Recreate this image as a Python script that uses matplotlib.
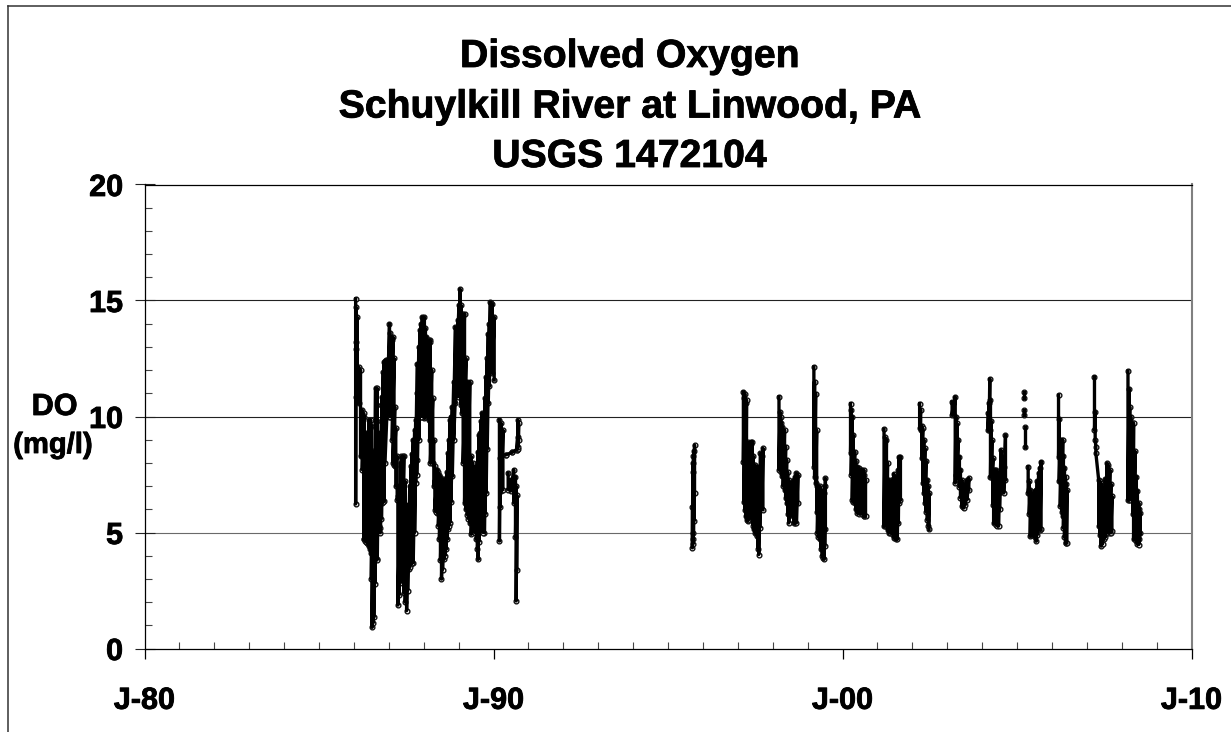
import numpy as np
import matplotlib
matplotlib.use("Agg")
import matplotlib.pyplot as plt
import matplotlib.patheffects as pe
from matplotlib.lines import Line2D
from matplotlib.ticker import MultipleLocator

plt.rcParams['font.family'] = ['Liberation Sans', 'DejaVu Sans']

TITLE = ["Dissolved Oxygen", "Schuylkill River at Linwood, PA", "USGS 1472104"]
YLABEL = ["DO", "(mg/l)"]
X_TICKS = [1980, 1990, 2000, 2010]
X_LABELS = ["J-80", "J-90", "J-00", "J-10"]
Y_TICKS = [0, 5, 10, 15, 20]

# Each block: decimal year, highest and lowest DO (mg/l) read around that date
d_1986 = [1986.05,1986.06,1986.07,1986.09,1986.14,1986.19,1986.24,1986.28,1986.33,1986.38,1986.43,1986.48,1986.52,1986.57,1986.62,1986.67,1986.71,1986.76,1986.81,1986.86,1986.91,1986.95,
          1987.02,1987.07,1987.12,1987.17,1987.24,1987.26,1987.32,1987.36,1987.43,1987.51,1987.57,1987.64,1987.70,1987.77,1987.82,1987.89,1987.96,
          1988.02,1988.08,1988.15,1988.19,1988.26,1988.32,1988.39,1988.45,1988.51,1988.58,1988.64,1988.70,1988.75,1988.82,1988.91,1988.98,
          1989.04,1989.10,1989.17,1989.25,1989.32,1989.36,1989.44,1989.51,1989.56,1989.61,1989.67,1989.74,1989.79,1989.85,1989.91,1989.96,1990.02]
h_1986 = [15.07,14.7,13.2,14.29,12.14,12.0,10.28,10.14,9.14,8.57,9.85,9.85,7.28,8.28,11.21,11.21,9.14,9.0,10.85,12.36,12.43,12.43,
          14.0,13.43,13.43,10.42,8.28,6.56,6.28,8.28,8.28,6.13,6.13,7.85,9.0,9.85,12.28,13.71,14.29,
          14.29,13.43,13.29,13.29,10.78,7.85,7.71,7.49,7.28,7.28,7.28,8.42,9.85,10.42,13.86,14.14,
          15.5,14.43,14.43,11.5,11.5,8.28,7.85,7.85,8.49,9.28,10.14,10.14,11.71,13.57,14.93,14.86,14.29]
l_1986 = [6.23,12.9,10.85,10.85,10.57,8.28,7.71,4.70,4.63,4.56,4.42,4.13,0.91,1.34,3.84,3.84,5.27,4.99,6.28,6.35,10.14,10.28,
          10.0,10.0,8.0,7.85,6.42,1.87,2.84,3.41,2.41,1.63,3.41,3.63,3.70,7.13,8.14,10.0,10.0,
          9.93,10.0,9.85,8.0,8.0,5.99,5.85,4.70,2.99,3.84,4.27,5.13,5.42,7.42,10.57,10.85,
          11.43,10.14,6.28,5.77,5.42,4.92,5.42,4.70,3.84,5.42,5.13,4.99,6.70,10.57,12.0,11.86,11.57]

# Half-step columns read between the ones above, where the mass is solid
d_1986x = [1986.30,1986.35,1986.40,1986.45,1986.50,1986.55,1986.60,1986.65,1986.74,1986.79,1986.84,1986.89,
           1987.04,1987.10,1987.15,1987.20,1987.29,1987.34,1987.40,1987.47,1987.54,1987.60,1987.67,1987.74,1987.80,1987.86,1987.92,
           1988.05,1988.11,1988.17,1988.23,1988.29,1988.35,1988.42,1988.48,1988.54,1988.61,1988.67,1988.73,1988.78,1988.86,
           1989.01,1989.07,1989.13,1989.21,1989.28,1989.40,1989.47,1989.54,1989.58,1989.64,1989.70,1989.76,1989.82,1989.88,1989.93]
h_1986x = [10.0,9.3,8.9,9.5,9.6,8.5,8.3,10.5,9.3,9.8,11.9,12.4,
           13.6,13.3,12.5,9.5,7.0,8.0,8.3,7.2,6.2,7.0,8.4,9.4,11.0,13.0,14.0,
           13.8,13.3,13.2,12.0,9.0,7.7,7.6,7.4,7.3,7.3,7.6,9.0,10.0,11.5,
           14.8,14.8,14.4,12.5,11.4,8.0,7.8,8.0,9.2,9.8,10.1,10.8,12.5,14.0,14.9]
l_1986x = [4.7,4.6,4.5,4.3,3.0,1.1,2.8,3.8,5.2,5.6,6.3,8.0,
           10.0,9.0,7.9,7.0,2.3,3.1,2.9,2.0,2.5,3.5,3.7,5.0,7.5,9.0,10.0,
           10.0,10.0,9.0,8.0,7.0,5.9,5.3,3.8,3.4,4.0,4.7,5.3,6.3,9.0,
           11.2,10.5,8.0,6.0,5.6,5.2,5.0,4.3,4.6,5.3,5.0,5.8,8.6,11.3,12.0]

d_1990a = [1990.17,1990.19,1990.22,1990.27]
h_1990a = [9.85,8.2,9.71,9.42]
l_1990a = [4.63,6.1,6.78,6.85]
d_1990b = [1990.36,1990.53,1990.66,1990.69,1990.70,1990.72]
h_1990b = [8.35,8.45,8.57,9.1,9.85,9.7]
l_1990b = [8.35,8.45,8.57,8.6,8.7,9.0]
d_1990c = [1990.42,1990.49,1990.58,1990.63,1990.65,1990.67]
h_1990c = [7.56,7.28,7.71,7.4,6.99,6.6]
l_1990c = [6.85,6.78,6.28,4.8,2.05,3.4]

d_1995 = [1995.70,1995.71,1995.72,1995.73,1995.74,1995.76]
h_1995 = [6.1,7.6,8.0,8.3,8.5,8.77]
l_1995 = [4.34,4.5,4.7,5.0,5.5,6.7]

d_1997 = [1997.16,1997.18,1997.20,1997.23,1997.25,1997.28,1997.30,1997.34,1997.37,1997.39,1997.41,1997.44,1997.46,1997.49,1997.51,1997.54,1997.56,1997.58,1997.60,1997.63,1997.65,1997.69,1997.72]
h_1997 = [11.06,10.8,10.99,10.6,10.71,8.9,7.99,8.2,8.92,8.8,8.92,8.3,7.92,7.9,7.84,7.8,7.84,7.1,6.84,7.3,8.42,8.3,8.63]
l_1997 = [8.06,6.3,5.98,5.7,5.56,5.5,5.56,5.8,5.98,5.7,5.56,5.3,5.13,5.0,4.98,4.9,4.84,4.3,4.05,5.2,5.98,6.0,5.98]

d_1998 = [1998.18,1998.21,1998.23,1998.25,1998.27,1998.30,1998.34,1998.37,1998.40,1998.43,1998.46,1998.50,1998.53,1998.57,1998.61,1998.64,1998.68,1998.72]
h_1998 = [10.85,10.2,9.99,9.7,9.56,9.4,9.42,8.7,8.13,7.6,7.27,7.1,7.13,7.2,7.27,7.4,7.56,7.49]
l_1998 = [7.70,7.8,7.84,7.6,7.42,7.0,6.84,6.5,6.27,5.8,5.41,5.9,6.13,5.7,5.41,5.4,5.41,6.27]

d_1999 = [1999.18,1999.20,1999.23,1999.26,1999.28,1999.31,1999.35,1999.38,1999.42,1999.45,1999.47,1999.49,1999.51]
h_1999 = [12.14,11.5,10.99,9.4,6.99,7.0,6.99,6.9,6.70,6.7,6.70,7.0,7.34]
l_1999 = [7.84,7.4,7.13,5.9,4.98,4.8,4.70,4.3,3.98,3.9,3.84,4.4,5.13]

d_2000 = [2000.23,2000.25,2000.28,2000.31,2000.35,2000.38,2000.42,2000.47,2000.52,2000.56,2000.61,2000.63,2000.66]
h_2000 = [10.56,10.3,9.99,9.2,8.49,8.1,7.84,7.8,7.70,7.7,7.70,7.5,7.27]
l_2000 = [8.42,7.5,6.41,6.3,6.27,6.0,5.84,5.8,5.84,5.8,5.70,5.7,5.70]

d_2001 = [2001.19,2001.22,2001.26,2001.29,2001.33,2001.37,2001.42,2001.45,2001.47,2001.50,2001.53,2001.57,2001.60,2001.62,2001.66]
h_2001 = [9.46,9.1,8.99,8.0,7.27,7.2,7.13,7.3,7.53,7.4,7.3,7.27,7.7,8.27,8.27]
l_2001 = [5.27,5.3,5.27,5.1,4.98,5.0,4.98,4.9,4.77,4.8,4.7,4.70,5.4,6.27,6.41]

d_2002 = [2002.21,2002.24,2002.27,2002.30,2002.33,2002.36,2002.39,2002.43,2002.46,2002.48]
h_2002 = [10.56,10.3,9.6,9.49,9.0,8.63,8.1,7.27,7.0,6.70]
l_2002 = [9.49,9.4,8.2,7.13,6.7,6.27,5.9,5.56,5.3,5.13]

d_2003 = [2003.14,2003.18,2003.23,2003.25,2003.28,2003.31,2003.35,2003.38,2003.42,2003.45,2003.47,2003.52,2003.57,2003.62]
h_2003 = [10.63,10.6,10.85,10.0,9.70,9.0,8.27,7.7,7.27,7.1,6.98,7.1,7.27,7.34]
l_2003 = [10.06,10.1,7.13,7.5,7.91,7.3,6.98,6.5,6.13,6.1,6.05,6.2,6.41,6.84]

d_2004 = [2004.17,2004.20,2004.22,2004.24,2004.26,2004.28,2004.31,2004.33,2004.37,2004.41,2004.44,2004.47,2004.50,2004.54,2004.58,2004.62,2004.67]
h_2004 = [10.13,10.6,11.63,10.70,9.8,8.99,8.2,7.70,7.7,7.70,7.0,6.70,7.6,8.56,8.2,7.84,9.20]
l_2004 = [9.42,9.4,9.42,7.41,7.4,7.41,6.2,5.41,5.4,5.34,5.3,5.27,6.0,6.84,6.8,6.70,7.27]

d_2005a = [2005.19]
h_2005a = [11.06]
l_2005a = [10.78]
d_2005b = [2005.19]
h_2005b = [10.27]
l_2005b = [10.06]
d_2005c = [2005.24]
h_2005c = [9.56]
l_2005c = [8.70]
d_2005d = [2005.32,2005.35,2005.38,2005.40,2005.43,2005.48,2005.51,2005.55,2005.58,2005.62,2005.66,2005.69]
h_2005d = [7.84,7.2,6.84,6.7,6.7,6.70,6.8,6.84,7.2,7.56,7.8,8.06]
l_2005d = [6.70,5.8,4.84,4.9,4.9,4.84,4.8,4.62,4.9,5.13,5.1,5.13]

d_2006 = [2006.19,2006.21,2006.24,2006.28,2006.31,2006.33,2006.36,2006.39,2006.41,2006.43]
h_2006 = [10.92,9.9,8.99,9.0,8.99,8.3,7.8,7.41,7.1,6.84]
l_2006 = [8.27,7.2,6.13,5.9,5.70,5.2,4.8,4.55,4.55,4.55]

d_2007 = [2007.22,2007.24,2007.26,2007.34,2007.37,2007.41,2007.45,2007.48,2007.53,2007.58,2007.62,2007.66,2007.69,2007.72]
h_2007 = [11.71,10.2,8.70,7.27,7.2,7.13,6.9,6.70,7.3,7.99,7.9,7.70,7.1,6.56]
l_2007 = [9.42,9.0,8.42,5.27,4.9,4.41,4.5,4.70,4.8,4.98,5.0,4.98,5.0,5.05]

d_2008 = [2008.18,2008.21,2008.23,2008.26,2008.30,2008.32,2008.34,2008.38,2008.42,2008.45,2008.49,2008.51,2008.53]
h_2008 = [11.96,11.2,10.42,10.0,9.70,9.7,9.70,8.5,7.41,6.8,6.27,6.0,5.84]
l_2008 = [6.41,6.4,6.41,6.5,6.70,5.8,4.70,4.7,4.62,4.5,4.48,4.7,4.98]

BLOCKS = [(d_1986,h_1986,l_1986),(d_1986x,h_1986x,l_1986x),(d_1990a,h_1990a,l_1990a),(d_1990b,h_1990b,l_1990b),(d_1990c,h_1990c,l_1990c),
          (d_1995,h_1995,l_1995),(d_1997,h_1997,l_1997),(d_1998,h_1998,l_1998),(d_1999,h_1999,l_1999),
          (d_2000,h_2000,l_2000),(d_2001,h_2001,l_2001),(d_2002,h_2002,l_2002),(d_2003,h_2003,l_2003),
          (d_2004,h_2004,l_2004),(d_2005a,h_2005a,l_2005a),(d_2005b,h_2005b,l_2005b),(d_2005c,h_2005c,l_2005c),
          (d_2005d,h_2005d,l_2005d),(d_2006,h_2006,l_2006),(d_2007,h_2007,l_2007),(d_2008,h_2008,l_2008)]

W, H = 1231, 732
fig = plt.figure(figsize=(W/100, H/100), dpi=100, facecolor='white')
ax = fig.add_axes([144.5/W, 1-648.5/H, (1191.5-144.5)/W, (648.5-184.5)/H])
ax.set_xlim(1980, 2010)
ax.set_ylim(0, 20)

for d, h, l in BLOCKS:
    xs = np.repeat(d, 2)
    ys = np.column_stack([h, l]).ravel()
    ax.plot(xs, ys, ls='none', marker='o', ms=3.4, mfc='white', mec='#111111', mew=1.0, zorder=3, clip_on=False)
    ax.plot(xs, ys, color='black', lw=2.4, zorder=4, solid_joinstyle='round')

# gridlines
for v, c in zip([5, 10, 15], ['#6a6a6a', '#222222', '#222222']):
    ax.axhline(v, color=c, lw=0.8, zorder=1)

stroke = [pe.withStroke(linewidth=0.6, foreground='black')]

ax.set_xticks(X_TICKS)
ax.set_xticklabels(X_LABELS)
ax.set_yticks(Y_TICKS)
ax.xaxis.set_minor_locator(MultipleLocator(1))
ax.yaxis.set_minor_locator(MultipleLocator(1))
ax.tick_params(axis='x', which='major', direction='out', length=7.5, width=0.9, color='black', pad=19.4,
               labelsize=22)
ax.tick_params(axis='y', which='major', direction='inout', length=13.7, width=0.8, color='#222222', pad=8.6,
               labelsize=22)
ax.tick_params(axis='both', which='minor', direction='in', length=5, width=0.8, color='#444444')
for lab in ax.get_xticklabels() + ax.get_yticklabels():
    lab.set_fontweight('bold')
    lab.set_path_effects(stroke)

for s in ['left', 'bottom', 'top']:
    ax.spines[s].set_linewidth(0.9)
    ax.spines[s].set_color('black')
ax.spines['right'].set_linewidth(1.5)
ax.spines['right'].set_color('#808080')

for txt, py in zip(TITLE, [67, 117.5, 167]):
    fig.text(629.5/W, 1-py/H, txt, ha='center', va='baseline', fontsize=28.2, fontweight='bold',
             color='black', path_effects=stroke)
fig.text(54.5/W, 1-415/H, YLABEL[0], ha='center', va='baseline', fontsize=22, fontweight='bold', path_effects=stroke)
fig.text(53/W, 1-453/H, YLABEL[1], ha='center', va='baseline', fontsize=21, fontweight='bold', path_effects=stroke)

# chart-area frame (open to right and bottom as cropped)
fig.add_artist(Line2D([7.5/W, 7.5/W], [0, 1-5.5/H], color='#333333', lw=1.1))
fig.add_artist(Line2D([7.5/W, 1], [1-5.5/H, 1-5.5/H], color='#333333', lw=1.1))

fig.savefig('out.png', dpi=100, facecolor='white')
